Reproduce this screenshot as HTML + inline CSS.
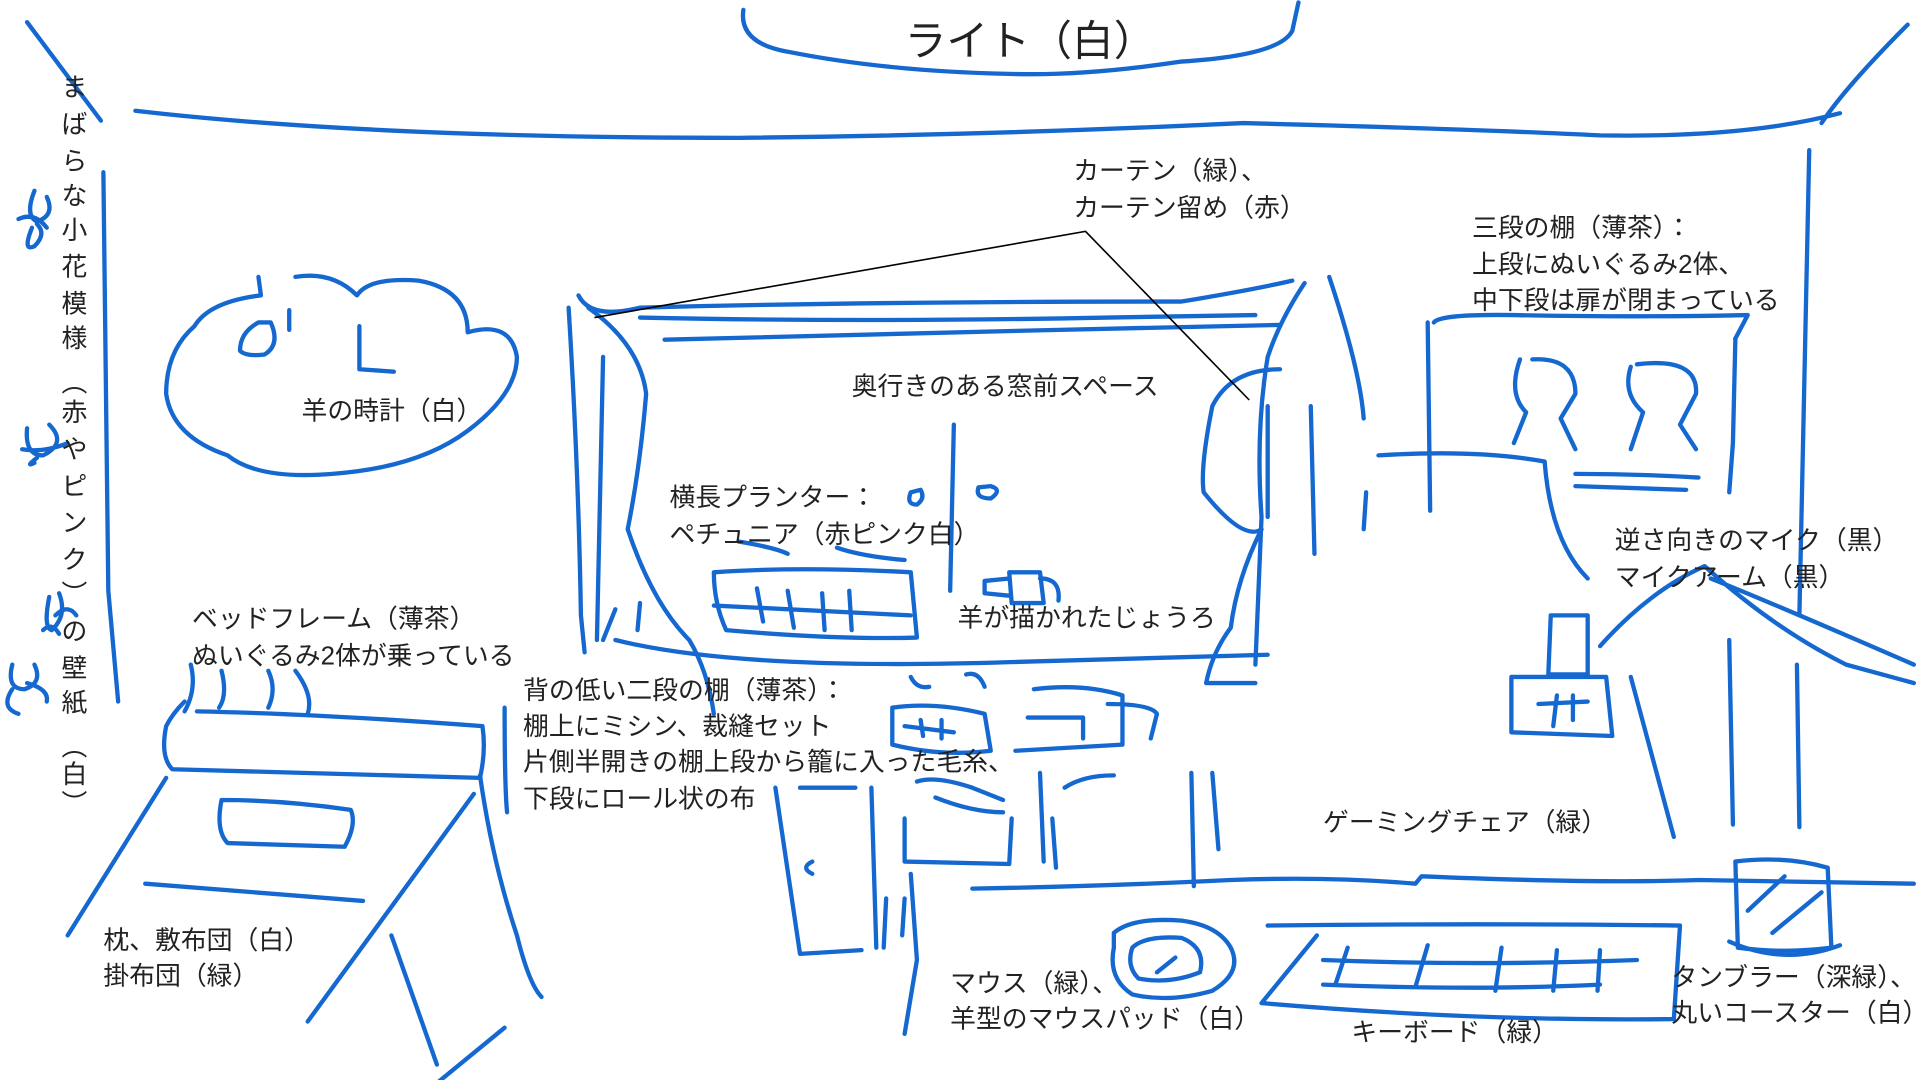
<!DOCTYPE html>
<html><head><meta charset="utf-8"><style>
html,body{margin:0;padding:0;background:#fff;width:1920px;height:1080px;overflow:hidden}
svg{display:block}
text{font-family:"Liberation Sans","Noto Sans CJK JP",sans-serif;fill:#222;font-size:21px}
</style></head><body>
<svg width="1920" height="1080" viewBox="0 0 1560 877.5" xmlns="http://www.w3.org/2000/svg">
<g fill="none" stroke="#1468d0" stroke-width="3.5" stroke-linecap="round" stroke-linejoin="round">
<path d="M604 8 Q600 35 640 42 Q720 58 820 60 Q880 62 960 50 Q1040 45 1050 25 L1055 2"/>
<path d="M22 18 L82 98"/>
<path d="M110 90 Q300 112 600 112 Q800 110 1010 100 Q1200 105 1300 110 Q1420 112 1495 92"/>
<path d="M1550 20 Q1500 70 1480 100"/>
<path d="M84 140 L88 480 L96 570"/>
<path d="M1470 122 L1462 500"/>
<path d="M28 155 Q20 175 30 180 Q45 175 38 160 M15 178 Q28 172 38 185 M26 185 Q18 205 28 200 Q38 190 30 182"/>
<path d="M22 348 Q20 370 35 370 Q55 360 40 345 M18 365 Q35 368 55 360 M30 372 Q20 380 28 376"/>
<path d="M40 485 Q35 510 42 512 Q55 500 48 482 M45 500 Q55 490 62 500 M35 512 Q42 505 48 515"/>
<path d="M10 540 Q5 560 20 560 Q35 555 28 540 M10 560 Q0 575 15 580 M22 555 Q40 560 38 570"/>
<path d="M210 225 L212 240 Q170 245 158 265 Q135 285 135 320 Q140 355 185 370 Q210 390 270 385 Q340 380 380 350 Q420 320 420 290 Q415 260 380 270 Q380 235 340 228 Q300 225 290 240 Q270 220 240 225"/>
<path d="M210 262 Q195 270 195 285 Q200 290 215 288 Q228 280 220 262 Z"/>
<path d="M235 252 L235 268 M292 265 L292 300 L320 302"/>
<path d="M470 240 Q480 260 520 250 Q700 245 960 245 Q1020 235 1050 228"/>
<path d="M520 258 Q700 262 900 258 L1020 256 M540 276 Q700 272 860 268 L1040 264"/>
<path d="M462 250 Q470 380 472 500 L475 530"/>
<path d="M478 250 Q520 280 525 320 Q520 380 510 430 Q530 490 560 520 Q575 545 580 580"/>
<path d="M490 290 L485 520 M500 495 L490 520 M520 490 L518 512"/>
<path d="M500 520 Q600 545 820 538 Q920 535 1030 532"/>
<path d="M1060 230 Q1040 260 1030 290 Q1020 350 1025 420 L1020 540"/>
<path d="M1080 225 Q1105 300 1108 340"/>
<path d="M1040 300 Q1000 300 985 330 Q975 380 978 400 Q1010 440 1025 430 Q1005 470 1000 510 Q985 530 980 555 L1020 555"/>
<path d="M775 345 L772 480"/>
<path d="M1030 330 L1030 420 M1065 330 L1068 450"/>
<path d="M580 465 Q650 460 740 465 L745 518 Q680 520 590 512 Q580 490 580 465"/>
<path d="M580 492 L740 500 M615 478 L620 505 M640 480 L645 510 M668 482 L670 512 M690 480 L692 512"/>
<path d="M600 440 Q630 445 640 450 M680 445 Q700 452 735 455"/>
<path d="M740 400 Q736 410 745 410 Q752 405 748 398 Z M795 396 Q792 405 805 405 Q815 398 805 395 Z"/>
<path d="M820 465 L845 465 L848 490 L822 490 Z M845 470 Q862 470 860 488 M820 470 L800 472 L800 482 L820 484"/>
<path d="M1165 262 Q1170 255 1230 256 Q1330 258 1420 256 L1410 275"/>
<path d="M1160 262 L1162 415 M1410 275 L1408 360 L1405 400"/>
<path d="M1235 292 Q1225 320 1240 335 L1230 360 M1245 292 Q1280 290 1280 320 L1268 340 L1280 365"/>
<path d="M1325 298 Q1318 320 1335 335 L1325 365 M1330 296 Q1380 290 1378 320 L1365 345 L1378 365"/>
<path d="M1280 385 Q1330 385 1380 388 M1280 395 L1370 398"/>
<path d="M1120 370 Q1200 365 1255 375 Q1260 440 1290 470"/>
<path d="M1110 400 L1108 430"/>
<path d="M1300 525 Q1340 480 1385 460 Q1440 510 1500 540 L1555 555 M1390 470 Q1440 490 1555 540"/>
<path d="M1260 500 L1290 500 L1290 548 L1258 548 Z"/>
<path d="M1228 550 L1305 550 L1310 598 L1228 595 Z M1250 572 L1290 570 M1265 565 L1262 590 M1278 565 L1278 585"/>
<path d="M1325 550 L1360 680 M1405 520 L1408 670 M1460 540 L1462 672"/>
<path d="M150 570 Q140 580 135 590 Q130 615 140 625 Q260 628 390 632 Q395 610 392 590 Q260 580 160 578"/>
<path d="M155 540 Q160 560 150 578 M180 545 Q185 565 178 575 M218 545 Q225 560 218 575 M240 545 Q255 565 250 580"/>
<path d="M135 632 L55 760 M390 630 Q400 700 420 760 Q430 800 440 810 M410 575 Q410 640 412 660"/>
<path d="M180 650 Q175 675 185 685 L280 688 Q290 670 285 658 Q230 650 180 650 Z"/>
<path d="M118 718 L295 732 M318 760 L355 865 M250 830 L385 645 M355 880 L410 835"/>
<path d="M630 640 L650 775 L700 772 M650 640 L695 640 M660 700 Q650 705 660 710"/>
<path d="M708 640 L712 770 M720 730 L718 770 M735 730 L733 760"/>
<path d="M725 575 Q760 570 800 580 L805 610 Q765 615 725 605 Z M735 590 L775 595 M748 585 L750 598 M765 585 L765 600"/>
<path d="M740 550 Q745 560 755 558 M785 548 Q795 545 800 558"/>
<path d="M840 560 Q880 555 912 565 L912 605 L825 610 M900 572 Q935 572 940 580 L935 600"/>
<path d="M835 583 L880 583 L880 600"/>
<path d="M745 635 Q760 630 790 640 L815 650 M760 648 Q790 660 815 660"/>
<path d="M735 665 L735 700 L820 702 L822 665"/>
<path d="M740 710 L745 780 L735 840 M845 628 L848 700 M855 665 L858 705 M865 640 Q880 630 905 630"/>
<path d="M968 628 L970 720 M985 628 L990 690"/>
<path d="M790 722 Q900 720 1000 715 Q1080 712 1150 718 L1155 712 Q1300 718 1380 715 L1555 718"/>
<path d="M1030 752 Q1200 750 1365 752 L1360 828 Q1200 830 1025 815 L1070 760"/>
<path d="M1075 780 Q1200 785 1330 780 M1075 800 Q1200 805 1300 800 M1095 770 L1085 800 M1160 768 L1150 802 M1220 770 L1215 805 M1265 772 L1262 805 M1300 772 L1298 805"/>
<path d="M905 758 Q920 745 960 748 Q990 752 1000 770 Q1010 790 985 805 Q950 815 920 808 Q900 795 905 770 Z"/>
<path d="M920 770 Q930 760 960 762 Q980 770 975 790 Q950 800 925 795 Q915 785 920 770 Z M940 790 L955 778"/>
<path d="M1410 700 Q1450 695 1485 705 L1488 770 Q1450 775 1412 770 Z M1420 740 L1450 712 M1440 758 L1480 725"/>
<path d="M1405 765 Q1450 785 1495 768"/>
</g>
<g stroke="#000" stroke-width="1.3" fill="none">
<path d="M483 258 L882 188 L1015 325"/>
</g>
<text x="735" y="45" style="font-size:34px">ライト（白）</text>
<g>
<text x="50" y="78">ま</text><text x="50" y="108">ば</text><text x="50" y="138">ら</text><text x="50" y="166">な</text><text x="50" y="194">小</text><text x="50" y="224">花</text><text x="50" y="254">模</text><text x="50" y="282">様</text><text x="50" y="318">︵</text><text x="50" y="342">赤</text><text x="50" y="372">や</text><text x="50" y="402">ピ</text><text x="50" y="432">ン</text><text x="50" y="462">ク</text><text x="50" y="490">︶</text><text x="50" y="520">の</text><text x="50" y="550">壁</text><text x="50" y="578">紙</text><text x="50" y="614">︵</text><text x="50" y="636">白</text><text x="50" y="660">︶</text>
<text x="872" y="146">カーテン（緑）、</text>
<text x="872" y="176">カーテン留め（赤）</text>
<text x="1196" y="192">三段の棚（薄茶）：</text>
<text x="1196" y="222">上段にぬいぐるみ2体、</text>
<text x="1196" y="251">中下段は扉が閉まっている</text>
<text x="692" y="321">奥行きのある窓前スペース</text>
<text x="245" y="341">羊の時計（白）</text>
<text x="544" y="411">横長プランター：</text>
<text x="544" y="441">ペチュニア（赤ピンク白）</text>
<text x="1312" y="446">逆さ向きのマイク（黒）</text>
<text x="1312" y="476">マイクアーム（黒）</text>
<text x="778" y="509">羊が描かれたじょうろ</text>
<text x="156" y="510">ベッドフレーム（薄茶）</text>
<text x="156" y="540">ぬいぐるみ2体が乗っている</text>
<text x="425" y="568">背の低い二段の棚（薄茶）：</text>
<text x="425" y="597">棚上にミシン、裁縫セット</text>
<text x="425" y="626">片側半開きの棚上段から籠に入った毛糸、</text>
<text x="425" y="656">下段にロール状の布</text>
<text x="1075" y="675">ゲーミングチェア（緑）</text>
<text x="84" y="771">枕、敷布団（白）</text>
<text x="84" y="800">掛布団（緑）</text>
<text x="772" y="806">マウス（緑）、</text>
<text x="772" y="835">羊型のマウスパッド（白）</text>
<text x="1358" y="801">タンブラー（深緑）、</text>
<text x="1358" y="830">丸いコースター（白）</text>
<text x="1098" y="846">キーボード（緑）</text>
</g>
</svg>
</body></html>
